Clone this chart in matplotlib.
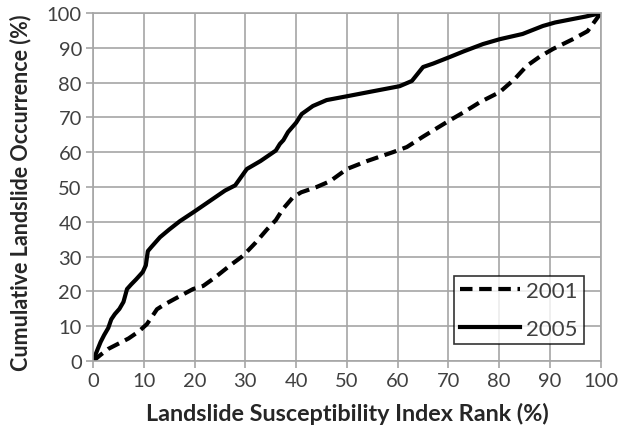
import matplotlib
matplotlib.use("Agg")
import matplotlib.pyplot as plt

x2001 = [0, 1.5, 3, 5, 7, 9, 10.6, 11.5, 12.6, 14, 16, 19.7, 21.7, 24, 27, 29.5, 32, 34.3, 36, 37.4, 39.4, 41, 44, 46.7, 50,
         54, 59, 61.8, 65, 69.7, 73, 76.2, 80.1, 83, 85.4, 88, 90.6, 94.5, 97.4, 100]
y2001 = [0, 1.8, 3.5, 5, 6.5, 8.5, 10.6, 12.5, 14.9, 16.2, 17.8, 20.7, 21.6, 24, 27.5, 30.2, 34, 37.9, 40.5, 43.7, 47.1, 48.5, 50, 51.7, 55.2,
         57.5, 60, 61.5, 64.5, 68.7, 71.5, 74.4, 77.3, 81, 84.8, 87.5, 89.7, 92.5, 94.8, 100]

x2005 = [0, 0.8, 1.5, 2.2, 3, 3.6, 4.3, 5.2, 6, 6.7, 7.5, 8.5, 9.8, 10.4, 10.8, 11.5, 13.2, 15, 17.1, 20, 23.6, 26, 28, 30.3,
         33, 36, 36.8, 37.5, 38.4, 40, 41.1, 43.3, 46, 50, 55, 60.4, 62.8, 65, 67, 70.3, 73, 76.8, 80.1, 84.6, 88.6, 91, 94.5, 97, 100]
y2005 = [0, 3, 5.5, 7.5, 9.5, 12, 13.5, 15, 17, 20.7, 22, 23.5, 25.6, 27.5, 31.6, 32.8, 35.6, 37.8, 40.2, 43, 46.6, 49, 50.5, 55.2,
         57.5, 60.5, 62.4, 63.5, 65.8, 68.5, 71, 73.3, 75, 76.1, 77.5, 79, 80.5, 84.5, 85.5, 87.4, 89, 91.1, 92.5, 94, 96.3, 97.3, 98.3, 99, 100]

ticks = list(range(0, 101, 10))

plt.rcParams['font.family'] = ['Lato', 'DejaVu Sans']

fig = plt.figure(figsize=(6.2, 4.27), dpi=100)
ax = fig.add_axes([0.150, 0.152, 0.819, 0.815])

ax.plot(x2001, y2001, color='black', lw=3, linestyle=(0, (3, 1.6)), label='2001')
ax.plot(x2005, y2005, color='black', lw=3, label='2005')

ax.set_xlim(0, 100)
ax.set_ylim(0, 100)
ax.set_xticks(ticks)
ax.set_yticks(ticks)
ax.grid(True, color='#a6a6a6', lw=1.2)
ax.set_axisbelow(True)
for s in ax.spines.values():
    s.set_color('#a6a6a6')
    s.set_linewidth(1.2)
ax.tick_params(axis='both', colors='#a6a6a6', labelcolor='#404040', labelsize=14.5, length=5, width=1.2, pad=3)

ax.set_xlabel('Landslide Susceptibility Index Rank (%)', fontsize=16.8, fontweight='bold', color='#262626', labelpad=9)
ax.set_ylabel('Cumulative Landslide Occurrence (%)', fontsize=15.5, fontweight='bold', color='#262626')
ax.yaxis.set_label_coords(-0.122, 0.486)

leg = ax.legend(loc='lower right', bbox_to_anchor=(0.966, 0.048), fontsize=16, frameon=True, fancybox=False,
                edgecolor='black', handlelength=2.7, labelspacing=0.8, borderpad=0.25, handletextpad=0.3,
                borderaxespad=0)
leg.get_frame().set_linewidth(1.2)
for t in leg.get_texts():
    t.set_color('#404040')

fig.savefig('out.png', dpi=100)
